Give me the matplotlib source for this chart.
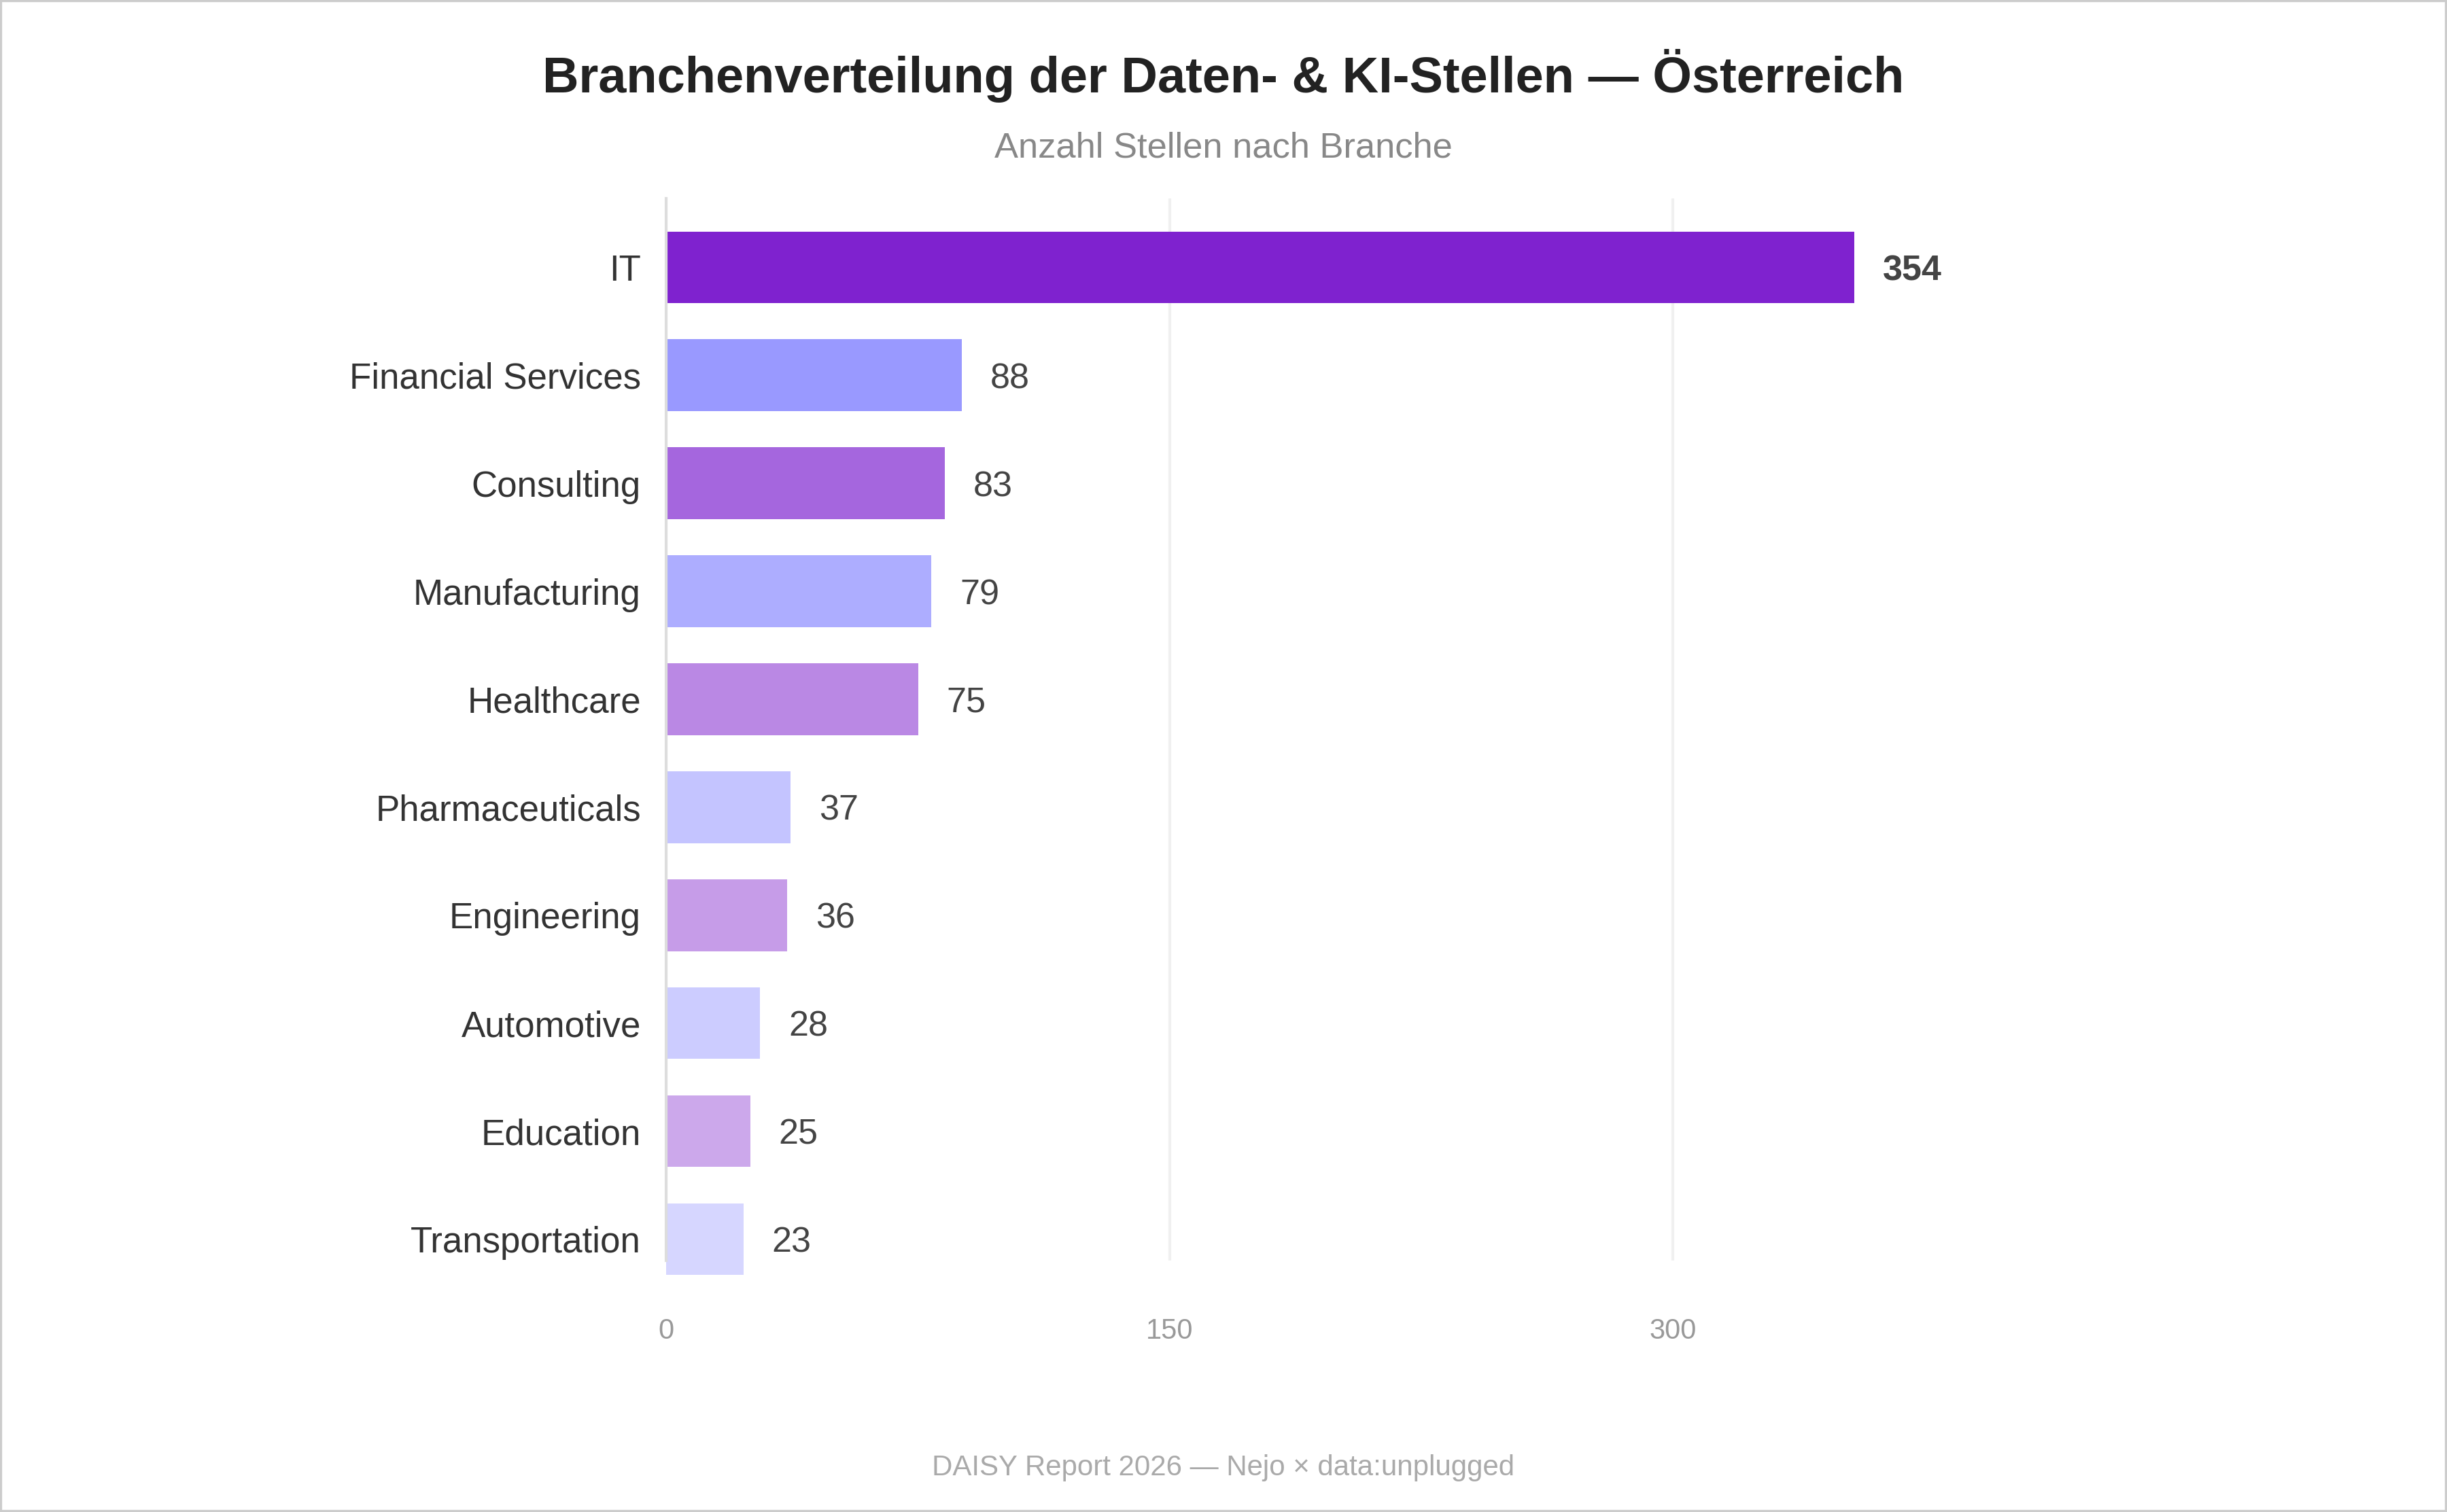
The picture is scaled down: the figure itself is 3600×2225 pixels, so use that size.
import matplotlib.pyplot as plt
from matplotlib.patches import Rectangle

plt.rcParams['font.family'] = ['Liberation Sans', 'DejaVu Sans']

# data
branchen = ["IT", "Financial Services", "Consulting", "Manufacturing", "Healthcare",
            "Pharmaceuticals", "Engineering", "Automotive", "Education", "Transportation"]
stellen = [354, 88, 83, 79, 75, 37, 36, 28, 25, 23]
farben = ["#7F22CF", "#9999FF", "#A566DE", "#ADADFF", "#BA88E4",
          "#C4C4FF", "#C69CE8", "#CCCCFF", "#CCA8EB", "#D6D6FF"]
ticks = [0, 150, 300]

fig = plt.figure(figsize=(12, 2225 / 300), dpi=300)
ax = fig.add_axes([0.2723, 0.1662, 0.8482 - 0.2723, 0.8689 - 0.1662])

pos = list(range(len(branchen)))
bars = ax.barh(pos, stellen, height=0.665, color=farben, zorder=2)
for b in bars:
    b.set_clip_on(False)

ax.set_xlim(0, 420)
ax.set_ylim(9.2, -0.64)

for i, v in enumerate(stellen):
    ax.text(v + 8.5, i, str(v), va='center_baseline', ha='left', fontsize=12.5,
            color='#444444', fontweight='bold' if i == 0 else 'normal')

ax.set_yticks(pos)
ax.set_yticklabels(branchen, fontsize=12.7, color='#333333', va='center_baseline')
ax.set_xticks(ticks)
ax.set_xticklabels([str(t) for t in ticks], fontsize=10, color='#999999')
ax.tick_params(axis='y', length=0, pad=9)
ax.tick_params(axis='x', length=0, pad=20)

ax.grid(axis='x', color='#f0f0f0', linewidth=1.0, zorder=0)
for s in ['top', 'right', 'bottom']:
    ax.spines[s].set_visible(False)
ax.spines['left'].set_color('#dddddd')
ax.spines['left'].set_linewidth(1.0)

fig.text(0.5, 0.950, "Branchenverteilung der Daten- & KI-Stellen — Österreich",
         ha='center', va='center', fontsize=17.8, fontweight='bold', color='#222222')
fig.text(0.5, 0.902, "Anzahl Stellen nach Branche", ha='center', va='center',
         fontsize=12.6, color='#888888')
fig.text(0.5, 0.029, "DAISY Report 2026 — Nejo × data:unplugged", ha='center', va='center',
         fontsize=10.1, color='#aaaaaa')

fig.patches.append(Rectangle((0, 0), 1, 1, transform=fig.transFigure, fill=False,
                             edgecolor='#cccccc', linewidth=1.5))

fig.savefig("out.png", dpi=300, facecolor='white')
